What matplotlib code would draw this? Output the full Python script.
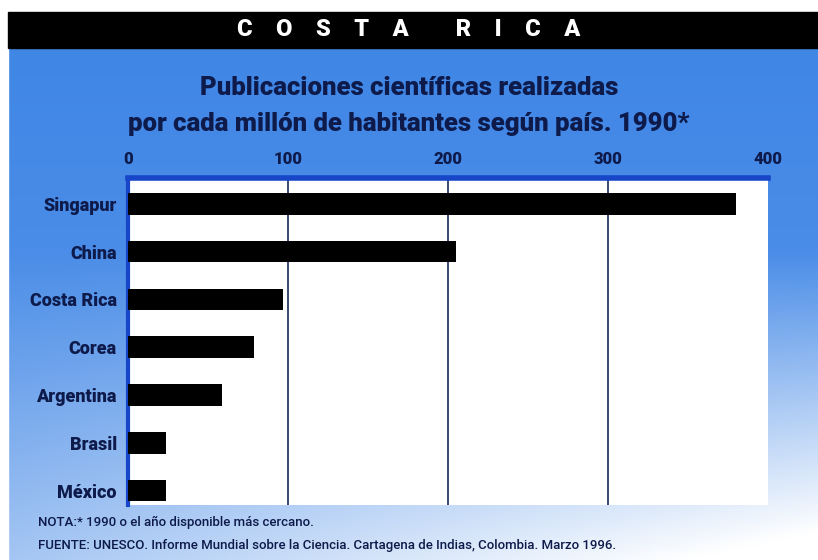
import numpy as np
import matplotlib
matplotlib.use("Agg")
import matplotlib.pyplot as plt

# Data: scientific publications per million inhabitants, 1990
paises = ["Singapur", "China", "Costa Rica", "Corea", "Argentina", "Brasil", "México"]
publicaciones = [380, 205, 97, 79, 59, 24, 24]
ticks_x = [0, 100, 200, 300, 400]

navy = "#0d1a4a"
azul_eje = "#1747c8"

plt.rcParams["font.family"] = ["Roboto", "DejaVu Sans"]

W, H = 818, 560
fig = plt.figure(figsize=(W / 100, H / 100), dpi=100)

# Blue background that fades toward the lower right corner
bg = fig.add_axes([0, 0, 1, 1], zorder=-10)
yy, xx = np.mgrid[0:1:200j, 0:1:300j]
top = np.array([0.24, 0.52, 0.90])
white = np.array([1.0, 1.0, 1.0])
t = np.clip(0.15 * yy + 0.75 * np.clip(yy - 0.45, 0, None) / 0.55 * (0.5 + 0.75 * xx), 0, 1)
img = top[None, None, :] * (1 - t[..., None]) + white[None, None, :] * t[..., None]
bg.imshow(img, extent=[0, 1, 1, 0], aspect="auto")
bg.set_xlim(0, 1)
bg.set_ylim(1, 0)
bg.axis("off")

# White margin on the left and top, black header band (data coords: y grows downward)
bg.add_patch(plt.Rectangle((0, 0), 8 / W, 1, color="white", zorder=2))
bg.add_patch(plt.Rectangle((0, 0), 1, 12 / H, color="white", zorder=2))
bg.add_patch(plt.Rectangle((8 / W, 12 / H), 1, 36 / H, color="black", zorder=3))
fig.text(0.5, 1 - 30 / H, "C    O    S    T    A        R    I    C    A", color="white",
         fontsize=17, fontweight="heavy", ha="center", va="center")

fig.text(0.5, 1 - 88 / H, "Publicaciones científicas realizadas", color=navy, fontsize=18.5,
         fontweight="heavy", ha="center", va="center")
fig.text(0.5, 1 - 124 / H, "por cada millón de habitantes según país. 1990*", color=navy,
         fontsize=18.5, fontweight="heavy", ha="center", va="center")

ax = fig.add_axes([128 / W, 55 / H, 640 / W, 327 / H])
ax.set_facecolor("white")
y = np.arange(len(paises))
ax.barh(y, publicaciones, height=0.45, color="black", zorder=3)
ax.set_xlim(0, 400)
ax.set_ylim(6.3, -0.54)
ax.set_xticks(ticks_x)
ax.set_xticklabels([str(v) for v in ticks_x], color=navy, fontsize=12, fontweight="heavy")
ax.xaxis.tick_top()
ax.tick_params(axis="x", length=0, pad=8)
ax.set_yticks(y)
ax.set_yticklabels(paises, color=navy, fontsize=13, fontweight="heavy")
ax.tick_params(axis="y", length=0, pad=8)
for v in ticks_x[1:-1]:
    ax.axvline(v, color="#2a3a6a", lw=1.3, zorder=2)
for s in ["right", "bottom"]:
    ax.spines[s].set_visible(False)
ax.spines["top"].set_color(azul_eje)
ax.spines["top"].set_linewidth(4)
ax.spines["left"].set_color(azul_eje)
ax.spines["left"].set_linewidth(3)

fig.text(38 / W, 1 - 522 / H, "NOTA:* 1990 o el año disponible más cercano.", color=navy,
         fontsize=9.5, fontweight="medium", ha="left", va="center")
fig.text(38 / W, 1 - 546 / H,
         "FUENTE: UNESCO. Informe Mundial sobre la Ciencia. Cartagena de Indias, Colombia. Marzo 1996.",
         color=navy, fontsize=9.5, fontweight="medium", ha="left", va="center")

fig.savefig("out.png", dpi=100)
